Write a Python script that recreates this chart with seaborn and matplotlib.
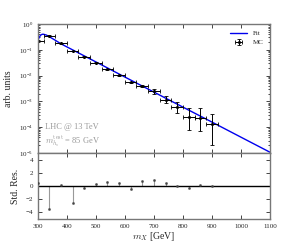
import matplotlib
matplotlib.use("Agg")
import matplotlib.pyplot as plt
import numpy as np
import seaborn as sns

# MC histogram (40 GeV bins)
mc_x = [300, 340, 380, 420, 460, 500, 540, 580, 620, 660, 700, 740, 780, 820, 860, 900]
mc_y = [0.22, 0.35, 0.178, 0.089, 0.054, 0.031, 0.0177, 0.0104, 0.0055, 0.0039,
        0.0025, 0.00118, 6.0e-4, 2.5e-4, 2.34e-4, 1.29e-4]
mc_err_lo = [0.01, 0.012, 0.006, 0.003, 0.002, 0.0012, 0.0008, 0.0005, 0.0003, 0.00025,
             0.0006, 0.00031, 2.6e-4, 1.7e-4, 1.6e-4, 1.08e-4]
mc_err_hi = [0.01, 0.012, 0.006, 0.003, 0.002, 0.0012, 0.0008, 0.0005, 0.0003, 0.00025,
             0.0004, 0.0004, 3.5e-4, 3.1e-4, 3.2e-4, 2.0e-4]
mc_xerr = 20

# fit curve
fit_x = [300, 305, 310, 315, 320, 330, 340, 360, 380, 400, 500, 600, 700, 800, 900, 1000, 1100]
fit_y = [0.22, 0.31, 0.37, 0.40, 0.40, 0.37, 0.32, 0.235, 0.17, 0.13, 0.034, 0.0088,
         0.0023, 6.0e-4, 1.58e-4, 4.1e-5, 1.07e-5]

# standardised residuals
res = [0.5, -3.44, 0.15, -2.56, -0.26, 0.3, 0.56, 0.46, -0.41, 0.82, 0.9, 0.4, 0.0, -0.35, 0.1, 0.0]

sns.set_style("ticks")
plt.rcParams['font.family'] = ['Liberation Serif', 'DejaVu Serif']
plt.rcParams['mathtext.fontset'] = 'cm'
plt.rcParams['xtick.direction'] = 'in'
plt.rcParams['ytick.direction'] = 'in'

fig = plt.figure(figsize=(3, 2.5), dpi=100)
ax = fig.add_axes([0.126, 0.388, 0.774, 0.516])
axr = fig.add_axes([0.126, 0.124, 0.774, 0.264], sharex=ax)

sns.lineplot(x=fit_x, y=fit_y, ax=ax, color='#0000ee', lw=1.0, label='Fit')
ax.errorbar(mc_x, mc_y, xerr=mc_xerr, yerr=[mc_err_lo, mc_err_hi], fmt='o', ms=1.2,
            color='black', ecolor='black', elinewidth=0.7, capsize=1.5, capthick=0.6, label='MC')
ax.set_yscale('log')
ax.set_ylim(1e-5, 1)
ax.set_xlim(300, 1100)
ax.set_ylabel('arb. units', fontsize=7)
ax.tick_params(labelbottom=False, labelsize=5, top=True, right=True, which='both', width=0.6)
ax.tick_params(which='major', length=3)
ax.tick_params(which='minor', length=1.5)
ax.text(0.03, 0.204, 'LHC @ 13 TeV', transform=ax.transAxes, color='#999999', fontsize=6, va='center')
ax.text(0.03, 0.088, r'$m_{h_s}^{\mathrm{test}}$ = 85 GeV', transform=ax.transAxes, color='#999999',
        fontsize=6, va='center')
leg = ax.legend(loc='upper right', frameon=False, fontsize=5, handlelength=2.5)

axr.vlines(mc_x, 0, res, color='#999999', lw=0.8)
sns.scatterplot(x=mc_x, y=res, ax=axr, color='#444444', s=3, edgecolor='#444444', zorder=3)
axr.axhline(0, color='black', lw=1.0)
axr.set_ylim(-5, 5)
axr.set_yticks([-4, -2, 0, 2, 4])
axr.set_xticks(range(300, 1101, 100))
axr.set_ylabel('Std. Res.', fontsize=7)
axr.set_xlabel(r'$m_X$ [GeV]', fontsize=7, labelpad=1)
axr.tick_params(labelsize=5, top=True, right=True, width=0.6, length=3)

for a in (ax, axr):
    for s in a.spines.values():
        s.set_color('#777777')
        s.set_linewidth(1.0)

fig.savefig('out.png', dpi=100)
